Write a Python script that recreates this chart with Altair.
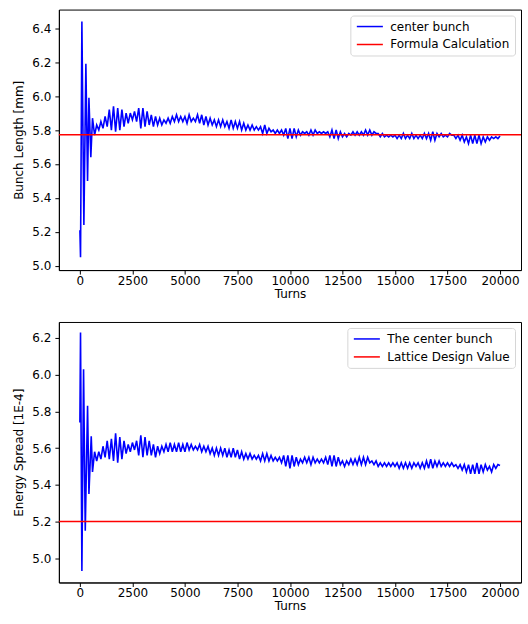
import altair as alt
import pandas as pd

# ---------------- data ----------------
# Bunch length [mm] (top panel)
bl_early_turns = [0, 30, 95, 190, 285, 365, 430, 520, 600]
bl_early_vals = [5.21, 5.05, 6.44, 5.24, 6.19, 5.50, 5.99, 5.64, 5.87]
tail_turns = list(range(700, 20001, 100))
bl_tail_vals = [
    5.77, 5.83, 5.80, 5.85,
    5.81, 5.88, 5.82, 5.92, 5.80, 5.94, 5.79, 5.93, 5.80, 5.92,
    5.82, 5.90, 5.84, 5.90, 5.86, 5.91, 5.85, 5.93, 5.81, 5.93,
    5.82, 5.91, 5.83, 5.89, 5.82, 5.88, 5.83, 5.87, 5.83, 5.86,
    5.84, 5.87, 5.84, 5.88, 5.85, 5.89, 5.85, 5.88, 5.85, 5.88,
    5.84, 5.89, 5.85, 5.87, 5.85, 5.89, 5.84, 5.89, 5.83, 5.88,
    5.83, 5.87, 5.83, 5.86, 5.82, 5.86, 5.82, 5.86, 5.82, 5.85,
    5.81, 5.86, 5.81, 5.85, 5.81, 5.85, 5.80, 5.84, 5.80, 5.83,
    5.80, 5.83, 5.80, 5.82, 5.80, 5.82, 5.78, 5.83, 5.78, 5.81,
    5.79, 5.80, 5.78, 5.80, 5.78, 5.80, 5.77, 5.81, 5.75, 5.81,
    5.75, 5.81, 5.76, 5.80, 5.77, 5.79, 5.78, 5.79, 5.77, 5.80,
    5.77, 5.80, 5.78, 5.79, 5.78, 5.79, 5.78, 5.79, 5.76, 5.80,
    5.75, 5.80, 5.75, 5.79, 5.76, 5.78, 5.76, 5.78, 5.77, 5.79,
    5.77, 5.79, 5.77, 5.79, 5.77, 5.80, 5.77, 5.80, 5.77, 5.79,
    5.78, 5.78, 5.76, 5.78, 5.76, 5.77, 5.76, 5.77, 5.76, 5.77,
    5.75, 5.77, 5.75, 5.78, 5.75, 5.77, 5.75, 5.78, 5.75, 5.77,
    5.75, 5.77, 5.75, 5.78, 5.75, 5.78, 5.74, 5.79, 5.74, 5.78,
    5.76, 5.78, 5.76, 5.77, 5.76, 5.78, 5.77, 5.77, 5.75, 5.77,
    5.74, 5.77, 5.73, 5.76, 5.72, 5.77, 5.72, 5.77, 5.72, 5.77,
    5.72, 5.76, 5.73, 5.76, 5.74, 5.76, 5.75, 5.76, 5.75, 5.765,
]
bl_formula = [5.773]

# Energy spread [1E-4] (bottom panel)
es_early_turns = [0, 30, 95, 175, 255, 365, 430, 540, 600]
es_early_vals = [5.74, 6.23, 4.93, 6.03, 5.15, 5.83, 5.35, 5.665, 5.47]
es_tail_vals = [
    5.58, 5.53, 5.58, 5.54,
    5.61, 5.55, 5.64, 5.54, 5.65, 5.53, 5.68, 5.52, 5.66, 5.54,
    5.64, 5.57, 5.62, 5.58, 5.63, 5.59, 5.64, 5.56, 5.67, 5.55,
    5.66, 5.56, 5.64, 5.56, 5.62, 5.55, 5.61, 5.57, 5.61, 5.58,
    5.62, 5.58, 5.63, 5.58, 5.62, 5.58, 5.63, 5.58, 5.62, 5.58,
    5.63, 5.59, 5.62, 5.59, 5.61, 5.59, 5.62, 5.58, 5.61, 5.58,
    5.61, 5.57, 5.60, 5.56, 5.60, 5.56, 5.60, 5.56, 5.60, 5.55,
    5.59, 5.55, 5.60, 5.55, 5.59, 5.54, 5.58, 5.54, 5.57, 5.54,
    5.57, 5.54, 5.56, 5.54, 5.56, 5.53, 5.57, 5.53, 5.57, 5.53,
    5.56, 5.53, 5.55, 5.53, 5.55, 5.52, 5.56, 5.50, 5.56, 5.49,
    5.56, 5.50, 5.55, 5.51, 5.54, 5.52, 5.55, 5.52, 5.55, 5.51,
    5.55, 5.52, 5.54, 5.52, 5.54, 5.52, 5.55, 5.51, 5.56, 5.50,
    5.56, 5.50, 5.55, 5.51, 5.53, 5.50, 5.53, 5.51, 5.54, 5.51,
    5.54, 5.51, 5.55, 5.51, 5.55, 5.51, 5.55, 5.52, 5.53, 5.51,
    5.53, 5.50, 5.52, 5.50, 5.52, 5.50, 5.52, 5.50, 5.52, 5.50,
    5.52, 5.49, 5.52, 5.49, 5.52, 5.49, 5.52, 5.49, 5.52, 5.50,
    5.52, 5.49, 5.52, 5.49, 5.53, 5.49, 5.54, 5.49, 5.53, 5.50,
    5.53, 5.50, 5.52, 5.50, 5.52, 5.50, 5.52, 5.50, 5.51, 5.49,
    5.51, 5.48, 5.51, 5.47, 5.51, 5.46, 5.51, 5.46, 5.52, 5.46,
    5.51, 5.47, 5.51, 5.48, 5.50, 5.47, 5.51, 5.49, 5.51, 5.505,
]
es_design = [5.2]

x_ticks = [0, 2500, 5000, 7500, 10000, 12500, 15000, 17500, 20000]
bl_ticks = [5.0, 5.2, 5.4, 5.6, 5.8, 6.0, 6.2, 6.4]
es_ticks = [5.0, 5.2, 5.4, 5.6, 5.8, 6.0, 6.2]

FONT = "DejaVu Sans"
FS = 12
W, H = 463, 261


def panel(turns, vals, ref_val, line_name, ref_name, ytitle, ydomain, yticks):
    df = pd.DataFrame({"turn": turns, "val": vals, "series": line_name})
    dref = pd.DataFrame({"val": ref_val, "series": ref_name})
    color = alt.Color(
        "series:N",
        scale=alt.Scale(domain=[line_name, ref_name], range=["#0000ff", "#ff0000"]),
        legend=alt.Legend(
            title=None,
            orient="top-right",
            offset=6,
            padding=5,
            fillColor="white",
            strokeColor="#d6d6d6",
            cornerRadius=3,
            symbolType="M-1,0L4.8,0",
            symbolSize=81,
            symbolStrokeWidth=1.5,
            labelFontSize=FS,
            labelFont=FONT,
            labelColor="#000000",
            labelOffset=23,
            rowPadding=6,
        ),
    )
    xenc = alt.X(
        "turn:Q",
        scale=alt.Scale(domain=[-1000, 21000], nice=False, zero=False),
        axis=alt.Axis(values=x_ticks, format="d", title="Turns", labelFlush=False),
    )
    yscale = alt.Scale(domain=ydomain, nice=False, zero=False)
    yaxis = alt.Axis(values=yticks, format=".1f", title=ytitle)
    line = alt.Chart(df).mark_line(strokeWidth=1.6, clip=True).encode(
        x=xenc, y=alt.Y("val:Q", scale=yscale, axis=yaxis), color=color, order="turn:Q"
    )
    rule = alt.Chart(dref).mark_rule(strokeWidth=1.5).encode(
        y=alt.Y("val:Q", scale=yscale, axis=yaxis), color=color
    )
    return alt.layer(line, rule).properties(width=W, height=H)


top = panel(bl_early_turns + tail_turns, bl_early_vals + bl_tail_vals, bl_formula,
            "center bunch", "Formula Calculation", "Bunch Length [mm]",
            [4.975, 6.51], bl_ticks)
bottom = panel(es_early_turns + tail_turns, es_early_vals + es_tail_vals, es_design,
               "The center bunch", "Lattice Design Value", "Energy Spread [1E-4]",
               [4.868, 6.287], es_ticks)

chart = (
    alt.vconcat(top, bottom, spacing=21)
    .resolve_scale(color="independent", y="independent", x="independent")
    .resolve_legend(color="independent")
    .properties(padding={"left": 12, "top": 8, "right": 5, "bottom": 5})
    .configure(background="white")
    .configure_view(stroke="#000000", strokeWidth=1)
    .configure_axis(
        grid=False,
        domainColor="#000000",
        tickColor="#000000",
        tickSize=4,
        labelPadding=4,
        labelFont=FONT,
        labelFontSize=FS,
        labelColor="#000000",
        titleFont=FONT,
        titleFontSize=FS,
        titleFontWeight="normal",
        titleColor="#000000",
    )
    .configure_axisX(titlePadding=2, labelPadding=1)
    .configure_axisY(titlePadding=6)
)

chart.save("out.html", embed_options={"renderer": "svg", "actions": False})
